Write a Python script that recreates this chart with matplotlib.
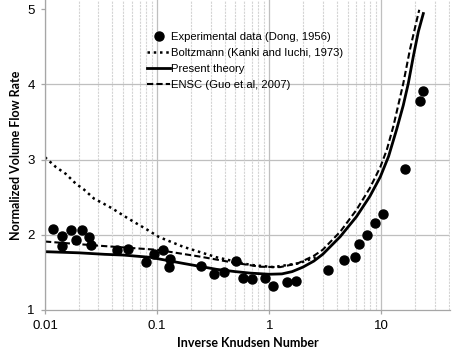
import matplotlib
matplotlib.use("Agg")
import matplotlib.pyplot as plt
from matplotlib.ticker import FixedLocator, NullFormatter, FixedFormatter

# ---- data ----
exp_x = [0.0117, 0.0142, 0.0141, 0.0171, 0.0188, 0.0212, 0.0248, 0.0255, 0.0435, 0.0553,
         0.0796, 0.0938, 0.1137, 0.130, 0.128, 0.245, 0.320, 0.398, 0.506, 0.580,
         0.703, 0.918, 1.074, 1.44, 1.73, 3.37, 4.65, 5.87, 6.37, 7.40,
         8.84, 10.3, 16.2, 22.1, 23.7]
exp_y = [2.07, 1.99, 1.85, 2.06, 1.93, 2.06, 1.97, 1.87, 1.80, 1.81,
         1.64, 1.74, 1.80, 1.68, 1.57, 1.59, 1.48, 1.51, 1.65, 1.43,
         1.41, 1.43, 1.32, 1.37, 1.385, 1.53, 1.66, 1.70, 1.88, 2.00,
         2.15, 2.28, 2.88, 3.78, 3.91]

boltz_x = [0.01, 0.0125, 0.0153, 0.0188, 0.0223, 0.0274, 0.0336, 0.0398, 0.0507, 0.0622,
           0.079, 0.104, 0.171, 0.34, 0.675, 1.09, 1.82, 2.6]
boltz_y = [3.03, 2.90, 2.81, 2.68, 2.60, 2.48, 2.41, 2.35, 2.25, 2.17,
           2.08, 1.97, 1.84, 1.70, 1.60, 1.57, 1.62, 1.70]

theory_x = [0.01, 0.02, 0.034, 0.05, 0.087, 0.17, 0.34, 0.5, 0.68, 1.0, 1.3, 1.6, 2.0,
            2.5, 3.0, 4.3, 6.0, 7.9, 9.8, 11.6, 13.7, 15.7, 17.4, 19.3, 21.4, 23.7]
theory_y = [1.775, 1.76, 1.74, 1.73, 1.70, 1.62, 1.54, 1.51, 1.49, 1.475, 1.48, 1.51, 1.57,
            1.65, 1.74, 1.975, 2.24, 2.51, 2.77, 3.04, 3.40, 3.72, 4.01, 4.37, 4.70, 4.94]

ensc_x = [0.01, 0.03, 0.1, 0.24, 0.48, 0.83, 1.25, 1.8, 2.5, 3.0, 4.3, 6.0, 7.9, 9.8,
          11.2, 12.8, 15.7, 18.0, 20.7, 21.8]
ensc_y = [1.91, 1.855, 1.80, 1.71, 1.63, 1.575, 1.57, 1.62, 1.72, 1.80, 2.04, 2.33, 2.62, 2.90,
          3.13, 3.44, 4.01, 4.46, 4.85, 4.99]

labels = ["Experimental data (Dong, 1956)", "Boltzmann (Kanki and Iuchi, 1973)",
          "Present theory", "ENSC (Guo et.al, 2007)"]
x_ticks = [0.01, 0.1, 1, 10]
x_ticklabels = ["0.01", "0.1", "1", "10"]
y_ticks = [1, 2, 3, 4, 5]

# ---- figure ----
plt.rcParams['font.family'] = ['Liberation Sans', 'DejaVu Sans']
fig = plt.figure(figsize=(4.53, 3.55), dpi=100)
ax = fig.add_axes([45/453, 45/355, 405/453, 310/355])
ax.set_xscale('log')
ax.set_xlim(0.01, 41)
ax.set_ylim(1, 5.12)

grid_c = '#bfbfbf'
minor_c = '#d4d4d4'
ax.xaxis.set_major_locator(FixedLocator(x_ticks))
ax.xaxis.set_major_formatter(FixedFormatter(x_ticklabels))
minors = [m * d for d in [0.01, 0.1, 1, 10] for m in range(2, 10)]
ax.xaxis.set_minor_locator(FixedLocator(minors))
ax.xaxis.set_minor_formatter(NullFormatter())
ax.set_yticks(y_ticks)
ax.grid(True, which='major', axis='x', color=grid_c, lw=0.9)
ax.grid(True, which='minor', axis='x', color=minor_c, lw=0.8, ls=(0, (2, 1)))
for yv in y_ticks[1:-1]:
    ax.axhline(yv, color=grid_c, lw=0.9, zorder=0.5)
ax.set_axisbelow(True)

for s in ['top', 'right']:
    ax.spines[s].set_visible(False)
for s in ['left', 'bottom']:
    ax.spines[s].set_color('#a6a6a6')
    ax.spines[s].set_linewidth(0.9)
ax.tick_params(axis='both', which='major', direction='out', length=3, width=0.9,
               color='#a6a6a6', labelsize=9.5, labelcolor='black', pad=4.5)
ax.tick_params(axis='x', which='minor', length=0)

ax.plot(exp_x, exp_y, 'o', color='black', ms=6.5, zorder=5, label=labels[0])
ax.plot(boltz_x, boltz_y, color='black', lw=1.8, ls=(0, (1, 1.5)), label=labels[1])
ax.plot(theory_x, theory_y, color='black', lw=2.0, ls='-', label=labels[2])
ax.plot(ensc_x, ensc_y, color='black', lw=1.5, ls=(0, (3, 1.5)), label=labels[3])

ax.set_xlabel("Inverse Knudsen Number", family=['Lato', 'DejaVu Sans'],
              fontweight='bold', fontsize=9, labelpad=3)
ax.set_ylabel("Normalized Volume Flow Rate", family=['Lato', 'DejaVu Sans'],
              fontweight='bold', fontsize=9, labelpad=4)

leg = ax.legend(loc='upper left', bbox_to_anchor=(147/453, 1 - 32/355),
                bbox_transform=fig.transFigure, frameon=False, fontsize=8.1,
                handlelength=2.05, handletextpad=0.05, labelspacing=0.52,
                borderpad=0, borderaxespad=0)

fig.savefig('out.png', dpi=100)
